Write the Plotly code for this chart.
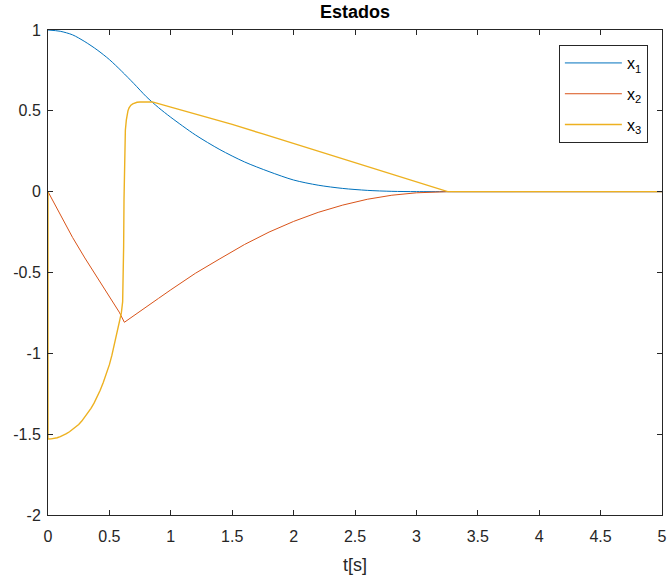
import plotly.graph_objects as go

# x1 (blue)
t1 = [0, 0.1, 0.2, 0.3, 0.4, 0.5, 0.6, 0.7, 0.8, 0.9, 1.0, 1.2, 1.4, 1.6, 1.8,
      2.0, 2.2, 2.4, 2.6, 2.8, 3.0, 3.255, 4.0, 5.0]
x1 = [1.0, 0.992, 0.97, 0.928, 0.877, 0.817, 0.745, 0.668, 0.588, 0.52, 0.46,
      0.351, 0.26, 0.184, 0.124, 0.072, 0.04, 0.02, 0.008, 0.002, 0.0003, 0.0, 0.0, 0.0]

# x2 (red)
t2 = [0, 0.1, 0.2, 0.3, 0.4, 0.5, 0.58, 0.622, 0.7, 0.8, 0.9, 1.0, 1.2, 1.4, 1.6,
      1.8, 2.0, 2.2, 2.4, 2.6, 2.8, 3.0, 3.255, 4.0, 5.0]
x2 = [0.0, -0.145, -0.283, -0.41, -0.53, -0.645, -0.745, -0.808, -0.768, -0.713,
      -0.66, -0.607, -0.505, -0.415, -0.327, -0.25, -0.184, -0.128, -0.083, -0.047,
      -0.022, -0.007, 0.0, 0.0, 0.0]

# x3 (yellow)
t3 = [0, 0, 0.025, 0.05, 0.075, 0.1, 0.125, 0.15, 0.175, 0.2, 0.225, 0.25, 0.275,
      0.3, 0.325, 0.35, 0.375, 0.4, 0.425, 0.45, 0.475, 0.5, 0.52, 0.54, 0.555,
      0.57, 0.585, 0.597, 0.608, 0.613, 0.616, 0.619, 0.622, 0.626, 0.63, 0.638,
      0.645, 0.651, 0.66, 0.675, 0.69, 0.703, 0.725, 0.75, 0.8, 0.85, 1.0, 1.25,
      1.5, 1.75, 2.0, 2.25, 2.5, 2.75, 3.0, 3.255, 4.0, 5.0]
x3 = [0.0, -1.53, -1.529, -1.527, -1.522, -1.515, -1.507, -1.497, -1.485, -1.47,
      -1.456, -1.44, -1.419, -1.395, -1.369, -1.34, -1.308, -1.27, -1.228, -1.18,
      -1.128, -1.07, -1.013, -0.95, -0.9, -0.855, -0.8, -0.752, -0.68, -0.55, -0.34,
      -0.05, 0.2, 0.32, 0.38, 0.444, 0.478, 0.5, 0.518, 0.535, 0.543, 0.548, 0.553,
      0.555, 0.557, 0.555, 0.523, 0.469, 0.416, 0.357, 0.298, 0.238, 0.179, 0.12,
      0.06, 0.0, 0.0, 0.0]

x_ticks = [0, 0.5, 1, 1.5, 2, 2.5, 3, 3.5, 4, 4.5, 5]
x_ticklabels = ["0", "0.5", "1", "1.5", "2", "2.5", "3", "3.5", "4", "4.5", "5"]
y_ticks = [-2, -1.5, -1, -0.5, 0, 0.5, 1]
y_ticklabels = ["-2", "-1.5", "-1", "-0.5", "0", "0.5", "1"]

FONT = "Liberation Sans, Arial, sans-serif"

fig = go.Figure()
fig.add_trace(go.Scatter(x=t1, y=x1, mode="lines", name="x<sub>1</sub>", legendgroup="a",
                         line=dict(color="#0072BD", width=1, shape="spline", smoothing=0.8)))
fig.add_trace(go.Scatter(x=t2, y=x2, mode="lines", name="x<sub>2</sub>", legendgroup="b",
                         line=dict(color="#D95319", width=1)))
fig.add_trace(go.Scatter(x=t3, y=x3, mode="lines", name="x<sub>3</sub>", legendgroup="c",
                         line=dict(color="#EDB120", width=1.4)))

axis_common = dict(
    showgrid=False, zeroline=False, showline=True, linecolor="#262626",
    linewidth=1, mirror="ticks", ticks="inside", ticklen=5, tickcolor="#262626",
    automargin=False, ticklabeloverflow="allow",
    tickfont=dict(family=FONT, size=16, color="#262626"),
)

fig.update_layout(
    width=669, height=578,
    margin=dict(l=48, r=7, t=30, b=63),
    paper_bgcolor="white", plot_bgcolor="white",
    title=dict(text="<b>Estados</b>", x=0.5, xanchor="center", y=0.991, yanchor="top",
               xref="paper", pad=dict(t=0),
               font=dict(family=FONT, size=18, color="black")),
    font=dict(family=FONT, color="#262626"),
    showlegend=True,
    legend=dict(x=0.977, xanchor="right", y=0.969, yanchor="top",
                bgcolor="white", bordercolor="#262626", borderwidth=1,
                font=dict(family=FONT, size=16, color="black"),
                tracegroupgap=7, itemwidth=57),
)
fig.update_xaxes(range=[0, 5], tickvals=x_ticks, ticktext=x_ticklabels,
                 ticklabelstandoff=7,
                 title=dict(text="t[s]", font=dict(family=FONT, size=18, color="#262626"),
                            standoff=14),
                 **axis_common)
fig.update_yaxes(range=[-2, 1], tickvals=y_ticks, ticktext=y_ticklabels,
                 ticklabelstandoff=3, **axis_common)

# remove the browser's default 8px page margin so the figure fills the window
fig.write_html("out.html", config={"displayModeBar": False},
               post_script="document.body.style.margin='0';document.body.style.overflow='hidden';")
